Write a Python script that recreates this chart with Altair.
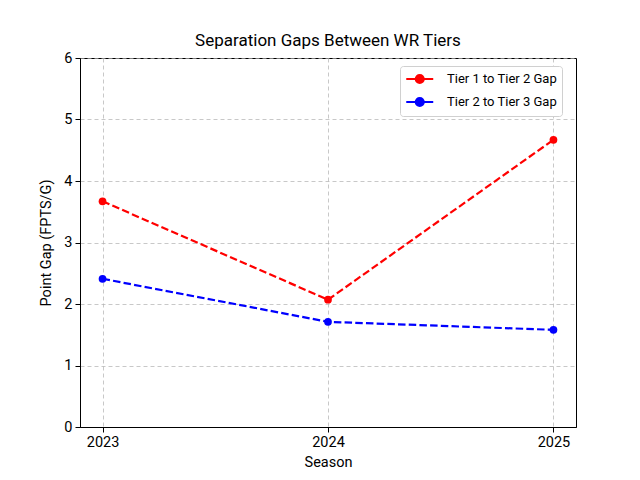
import altair as alt
import pandas as pd

seasons = [2023, 2024, 2025]
tier1_2_gap = [3.67, 2.07, 4.67]
tier2_3_gap = [2.41, 1.71, 1.58]
series_names = ["Tier 1 to Tier 2 Gap", "Tier 2 to Tier 3 Gap"]
series_colors = ["#ff0000", "#0000ff"]

rows = []
for s, a, b in zip(seasons, tier1_2_gap, tier2_3_gap):
    rows.append({"Season": s, "Gap": a, "Series": series_names[0]})
    rows.append({"Season": s, "Gap": b, "Series": series_names[1]})
df = pd.DataFrame(rows)

FONT = "Roboto"

color = alt.Color(
    "Series:N",
    scale=alt.Scale(domain=series_names, range=series_colors),
    legend=alt.Legend(
        title=None,
        orient="none",
        legendX=320,
        legendY=8,
        symbolType="M-1,0L3,0M0.4,0A0.6,0.6,0,1,1,1.6,0A0.6,0.6,0,1,1,0.4,0Z",
        symbolSize=182,
        symbolStrokeWidth=2,
        labelFontSize=13,
        labelFont=FONT,
        labelColor="#000000",
        strokeColor="#d0d0d0",
        fillColor="#ffffff",
        cornerRadius=3,
        padding=5,
        rowPadding=5,
        labelOffset=26,
    ),
)

x = alt.X(
    "Season:Q",
    scale=alt.Scale(domain=[2022.9, 2025.1], nice=False, zero=False),
    axis=alt.Axis(values=seasons, format="d", title="Season"),
)
y = alt.Y(
    "Gap:Q",
    scale=alt.Scale(domain=[0, 6], nice=False),
    axis=alt.Axis(values=[0, 1, 2, 3, 4, 5, 6], title="Point Gap (FPTS/G)"),
)

base = alt.Chart(df)
lines = base.mark_line(strokeDash=[7.5, 3.2], strokeWidth=2.2).encode(x=x, y=y, color=color)
points = base.mark_point(filled=True, size=60, opacity=1).encode(x=x, y=y, color=color, fill=color)

chart = (
    alt.layer(lines, points)
    .properties(
        width=496,
        height=369,
        title=alt.TitleParams(
            "Separation Gaps Between WR Tiers",
            font=FONT,
            fontSize=17,
            fontWeight="normal",
            color="#000000",
            offset=0,
        ),
        autosize=alt.AutoSizeParams(type="none"),
        padding={"left": 72, "top": 50, "right": 56, "bottom": 45},
    )
    .configure_view(stroke="#000000", strokeWidth=1)
    .configure_axis(
        labelFont=FONT,
        titleFont=FONT,
        labelFontSize=14.5,
        titleFontSize=14.5,
        titleFontWeight="normal",
        labelColor="#000000",
        titleColor="#000000",
        domainColor="#000000",
        tickColor="#000000",
        tickSize=5,
        gridColor="#b0b0b0",
        gridDash=[4, 3],
        gridOpacity=0.7,
        labelPadding=3,
    )
    .configure_axisX(titlePadding=7)
    .configure_axisY(titlePadding=10)
)

chart.save("out.html", embed_options={"renderer": "svg", "actions": False})
